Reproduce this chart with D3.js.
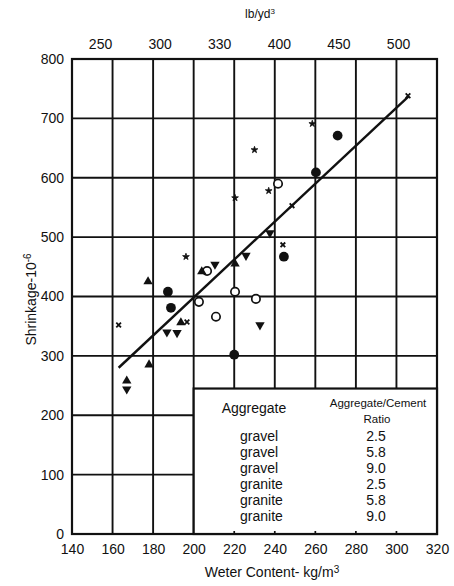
<!DOCTYPE html>
<html>
<head>
<meta charset="utf-8">
<script src="https://cdn.jsdelivr.net/npm/d3@7"></script>
<style>
  body { margin: 0; background: #fff; }
  svg { font-family: 'Liberation Sans', Arial, sans-serif; }
</style>
</head>
<body>
<svg id="chart" width="454" height="586"></svg>
<script>
// Data (water content kg/m3, shrinkage 10^-6)
const xTicks = [140, 160, 180, 200, 220, 240, 260, 280, 300, 320];
const yTicks = [0, 100, 200, 300, 400, 500, 600, 700, 800];
const topTicks = [250, 300, 350, 400, 450, 500];
const topLabels = ['250', '300', '330', '400', '450', '500'];

const gravel25 = [[206.6, 443], [202.6, 391], [211, 366], [220.4, 408], [230.7, 396], [241.6, 590]];
const gravel58 = [[187.3, 408], [188.8, 381], [220, 302], [244.5, 467], [260.3, 609], [271, 671]];
const gravel90 = [[177.5, 425], [204, 442], [193.7, 356], [178, 285], [167, 258], [220.4, 455]];
const granite25 = [[210.5, 454], [186.8, 340], [191.8, 339], [167, 244], [225.8, 469], [232.7, 352], [237.6, 507]];
const granite58 = [[196.2, 467], [230, 647], [237, 578], [220.4, 566], [258.5, 691]];
const granite90 = [[163, 352], [196.7, 357], [248.5, 553], [244, 487], [305.7, 738]];

const fitLine = [[163, 280], [306, 737]];

const legendNames = ['gravel', 'gravel', 'gravel', 'granite', 'granite', 'granite'];
const legendRatios = ['2.5', '5.8', '9.0', '2.5', '5.8', '9.0'];

// Layout
const L = 72, R = 437, T = 59, B = 534;
const svg = d3.select('#chart');

const x = d3.scaleLinear().domain([140, 320]).range([L, R]);
const y = d3.scaleLinear().domain([0, 800]).range([B, T]);
const xTop = d3.scaleLinear().domain([226.5, 532.7]).range([L, R]);

// legend box extent in data units
const boxX = 200, boxY = 245;

// Grid
const grid = svg.append('g').attr('stroke', '#111').attr('stroke-width', 1.9);
grid.selectAll('line.v')
  .data(xTicks.slice(1, -1))
  .enter().append('line')
  .attr('x1', (d) => x(d)).attr('x2', (d) => x(d))
  .attr('y1', y(800))
  .attr('y2', (d) => (d > boxX ? y(boxY) : y(0)));
grid.selectAll('line.h')
  .data(yTicks.slice(1, -1))
  .enter().append('line')
  .attr('y1', (d) => y(d)).attr('y2', (d) => y(d))
  .attr('x1', x(140))
  .attr('x2', (d) => (d < boxY ? x(boxX) : x(320)));

// Frame
svg.append('rect')
  .attr('x', L).attr('y', T)
  .attr('width', R - L).attr('height', B - T)
  .attr('fill', 'none').attr('stroke', '#111').attr('stroke-width', 2.2);

// Axes labels (ticks)
const xAxis = svg.append('g')
  .attr('transform', `translate(0,${B + 4})`)
  .call(d3.axisBottom(x).tickValues(xTicks).tickSize(0).tickPadding(6));
const yAxis = svg.append('g')
  .attr('transform', `translate(${L - 8},0)`)
  .call(d3.axisLeft(y).tickValues(yTicks).tickSize(0).tickPadding(0));
const topAxis = svg.append('g')
  .attr('transform', `translate(0,${T - 10})`)
  .call(d3.axisTop(xTop).tickValues(topTicks).tickSize(0).tickPadding(0)
    .tickFormat((d, i) => topLabels[i]));
[xAxis, yAxis, topAxis].forEach((g) => {
  g.select('.domain').remove();
  g.selectAll('text')
    .attr('font-size', 14)
    .attr('font-family', "'Liberation Sans', Arial, sans-serif")
    .attr('fill', '#111');
});

// Titles
svg.append('text')
  .attr('x', 260).attr('y', 18)
  .attr('text-anchor', 'middle').attr('font-size', 12).attr('fill', '#111')
  .html('lb/yd<tspan font-size="8" dy="-4">3</tspan>');

svg.append('text')
  .attr('x', 272).attr('y', 577)
  .attr('text-anchor', 'middle').attr('font-size', 14).attr('fill', '#111')
  .html('Weter Content- kg/m<tspan font-size="10" dy="-4">3</tspan>');

svg.append('text')
  .attr('transform', `translate(36,${y(395)}) rotate(-90)`)
  .attr('text-anchor', 'middle').attr('font-size', 14).attr('fill', '#111')
  .html('Shrinkage-10<tspan font-size="10" dy="-5">-6</tspan>');

// Fit line
svg.append('path')
  .datum(fitLine)
  .attr('d', d3.line().x((d) => x(d[0])).y((d) => y(d[1])))
  .attr('stroke', '#111').attr('stroke-width', 2.4).attr('fill', 'none');

// Points
const marks = svg.append('g').attr('fill', '#111').attr('stroke', '#111');
function draw(data, type, size, style) {
  marks.append('g').selectAll('path')
    .data(data)
    .enter().append('path')
    .attr('transform', (d) => `translate(${x(d[0])},${y(d[1])})${style.rot ? ' rotate(180)' : ''}`)
    .attr('d', d3.symbol().type(type).size(size))
    .attr('fill', style.fill)
    .attr('stroke-width', style.sw);
}
draw(gravel25, d3.symbolCircle, 55, { fill: '#fff', sw: 1.7 });
draw(gravel58, d3.symbolCircle, 75, { fill: '#111', sw: 0 });
draw(gravel90, d3.symbolTriangle, 38, { fill: '#111', sw: 0 });
draw(granite25, d3.symbolTriangle, 38, { fill: '#111', sw: 0, rot: true });
draw(granite58, d3.symbolStar, 14, { fill: '#111', sw: 0.8 });
draw(granite90, d3.symbolX, 16, { fill: 'none', sw: 1.8 });

// Legend box
svg.append('rect')
  .attr('x', x(boxX)).attr('y', y(boxY))
  .attr('width', x(320) - x(boxX)).attr('height', y(0) - y(boxY))
  .attr('fill', '#fff').attr('stroke', '#111').attr('stroke-width', 2.2);
// short ticks along the bottom inside the legend box
svg.selectAll('line.tt')
  .data(xTicks.filter((d) => d > boxX && d < 320))
  .enter().append('line')
  .attr('x1', (d) => x(d)).attr('x2', (d) => x(d))
  .attr('y1', y(0)).attr('y2', y(0) - 3)
  .attr('stroke', '#111').attr('stroke-width', 1.7);

const lg = svg.append('g').attr('fill', '#111').attr('font-size', 14);
lg.append('text').attr('x', 254).attr('y', 413).attr('text-anchor', 'middle').text('Aggregate');
lg.append('text').attr('x', 378).attr('y', 407).attr('text-anchor', 'middle')
  .attr('font-size', 11.5).text('Aggregate/Cement');
lg.append('text').attr('x', 377).attr('y', 423).attr('text-anchor', 'middle')
  .attr('font-size', 11.5).text('Ratio');
lg.selectAll('text.n')
  .data(legendNames)
  .enter().append('text')
  .attr('x', 240).attr('y', (d, i) => 441 + i * 16)
  .text((d) => d);
lg.selectAll('text.r')
  .data(legendRatios)
  .enter().append('text')
  .attr('x', 376).attr('y', (d, i) => 441 + i * 16)
  .attr('text-anchor', 'middle')
  .text((d) => d);
</script>
</body>
</html>
